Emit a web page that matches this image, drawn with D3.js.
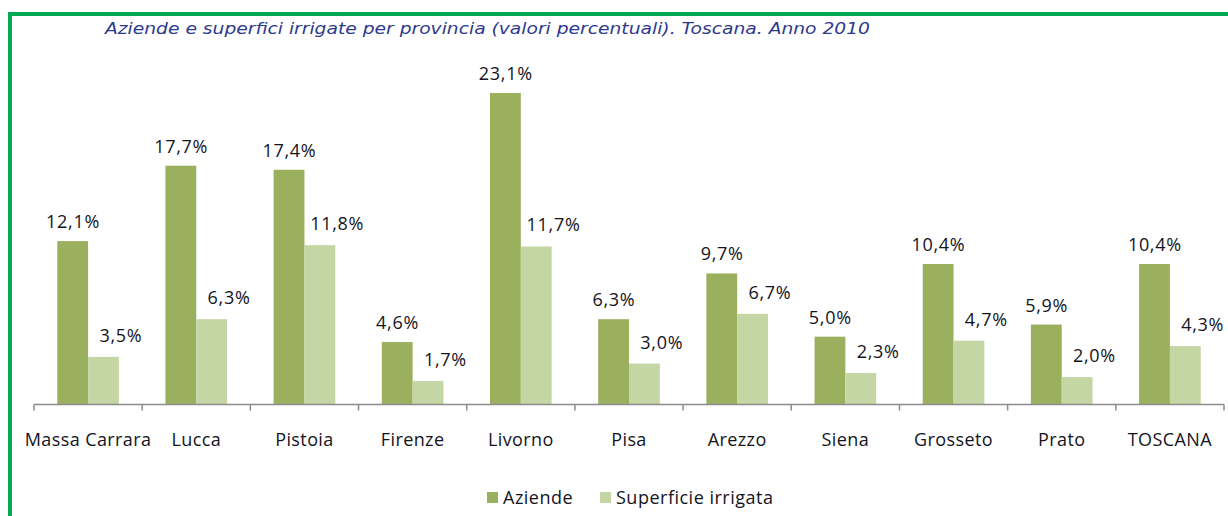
<!DOCTYPE html>
<html>
<head>
<meta charset="utf-8">
<script src="https://cdn.jsdelivr.net/npm/d3@7"></script>
<style>
  body { margin: 0; background: #fff; }
  svg text { font-family: "Open Sans", Lato, sans-serif; }
</style>
</head>
<body>
<div id="chart"></div>
<script>
// dati
var province = ["Massa Carrara", "Lucca", "Pistoia", "Firenze", "Livorno", "Pisa",
                "Arezzo", "Siena", "Grosseto", "Prato", "TOSCANA"];
var aziende = [12.1, 17.7, 17.4, 4.6, 23.1, 6.3, 9.7, 5.0, 10.4, 5.9, 10.4];
var superficie = [3.5, 6.3, 11.8, 1.7, 11.7, 3.0, 6.7, 2.3, 4.7, 2.0, 4.3];
var serie = ["Aziende", "Superficie irrigata"];
var colori = ["#9bb05e", "#c5d6a5"];
var titolo = "Aziende e superfici irrigate per provincia (valori percentuali). Toscana. Anno 2010";

var width = 1228, height = 516;

var svg = d3.select("#chart").append("svg")
    .attr("width", width)
    .attr("height", height);

// cornice verde
svg.append("rect").attr("x", 8).attr("y", 12).attr("width", width - 8).attr("height", 4).attr("fill", "#00a94f");
svg.append("rect").attr("x", 8).attr("y", 12).attr("width", 4).attr("height", height - 12).attr("fill", "#00a94f");

svg.append("text")
    .attr("x", 105).attr("y", 34)
    .style("font-family", "'DejaVu Sans', Verdana, sans-serif")
    .style("font-style", "italic")
    .style("font-size", "16px")
    .attr("textLength", 765)
    .attr("lengthAdjust", "spacingAndGlyphs")
    .attr("fill", "#2e3a8c")
    .text(titolo);

var data = province.map(function(p, i) {
  return {prov: p, values: [aziende[i], superficie[i]]};
});

var x0 = d3.scaleBand().domain(province).range([34, 1224])
    .paddingInner(0.43).paddingOuter(0.215);
var x1 = d3.scaleBand().domain([0, 1]).range([0, x0.bandwidth()]);
var y = d3.scaleLinear().domain([0, 23.1]).range([404, 93]);

var fmt = function(v) { return v.toFixed(1).replace(".", ",") + "%"; };

var groups = svg.selectAll("g.prov")
  .data(data)
  .enter().append("g")
    .attr("class", "prov")
    .attr("transform", function(d) { return "translate(" + x0(d.prov) + ",0)"; });

groups.selectAll("rect")
  .data(function(d) { return d.values; })
  .enter().append("rect")
    .attr("x", function(d, i) { return x1(i); })
    .attr("y", function(d) { return y(d); })
    .attr("width", x1.bandwidth())
    .attr("height", function(d) { return y(0) - y(d); })
    .attr("fill", function(d, i) { return colori[i]; });

// le etichette della seconda serie sono spostate a destra come nell'originale
groups.selectAll("text")
  .data(function(d) { return d.values; })
  .enter().append("text")
    .attr("x", function(d, i) { return x1(i) + x1.bandwidth() / 2 + (i === 1 ? 17 : 0) + 0.35; })
    .attr("y", function(d, i) { return y(d) - (i === 1 ? 15 : 13); })
    .attr("text-anchor", "middle")
    .style("font-size", "18px")
    .style("letter-spacing", "0.7px")
    .attr("fill", "#14141e")
    .text(fmt);

// asse x con tacche ai confini delle categorie
var axisY = y(0) + 0.5;
svg.append("line")
    .attr("x1", 34).attr("x2", 1224)
    .attr("y1", axisY).attr("y2", axisY)
    .attr("stroke", "#8c8c8c").attr("stroke-width", 1.5);

var bordi = province.map(function(p) { return x0(p) - x0.step() * x0.paddingInner() / 2; });
bordi.push(1224);
svg.selectAll("line.tick")
  .data(bordi)
  .enter().append("line")
    .attr("class", "tick")
    .attr("x1", function(d) { return d; }).attr("x2", function(d) { return d; })
    .attr("y1", axisY).attr("y2", axisY + 6)
    .attr("stroke", "#8c8c8c").attr("stroke-width", 1.5);

svg.selectAll("text.cat")
  .data(province)
  .enter().append("text")
    .attr("class", "cat")
    .attr("x", function(d) { return x0(d) + x0.bandwidth() / 2; })
    .attr("y", 446)
    .attr("text-anchor", "middle")
    .style("font-size", "18px")
    .style("letter-spacing", "0.4px")
    .attr("fill", "#14141e")
    .text(function(d) { return d; });

// legenda
var legX = [487, 600];
var leg = svg.selectAll("g.leg")
  .data(serie)
  .enter().append("g")
    .attr("class", "leg")
    .attr("transform", function(d, i) { return "translate(" + legX[i] + ",492)"; });
leg.append("rect").attr("width", 11).attr("height", 11)
    .attr("fill", function(d, i) { return colori[i]; });
leg.append("text").attr("x", 16).attr("y", 12)
    .style("font-size", "18px")
    .style("letter-spacing", "0.5px")
    .attr("fill", "#14141e")
    .text(function(d) { return d; });
</script>
</body>
</html>
